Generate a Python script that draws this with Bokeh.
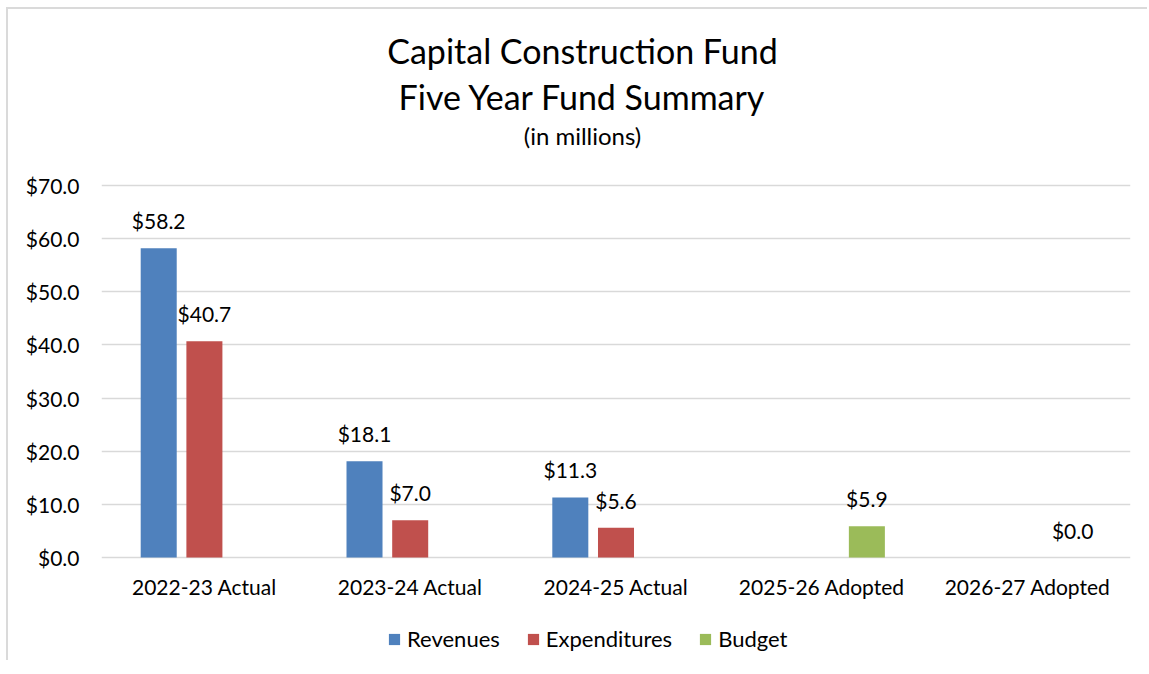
from bokeh.plotting import figure
from bokeh.models import (ColumnDataSource, FactorRange, Range1d, FixedTicker,
                          LabelSet, Label, Legend, LegendItem)
from bokeh.transform import dodge
from bokeh.core.properties import value
from bokeh.embed import file_html
from bokeh.resources import INLINE

categories = ["2022-23 Actual", "2023-24 Actual", "2024-25 Actual",
              "2025-26 Adopted", "2026-27 Adopted"]
revenues = [58.2, 18.1, 11.3, None, None]
expenditures = [40.7, 7.0, 5.6, None, None]
budget = [None, None, None, 5.9, 0.0]
y_ticks = [0, 10, 20, 30, 40, 50, 60, 70]
y_tick_labels = ["$0.0", "$10.0", "$20.0", "$30.0", "$40.0", "$50.0", "$60.0", "$70.0"]
title_lines = ["Capital Construction Fund", "Five Year Fund Summary"]
subtitle = "(in millions)"

FONT = "Lato"
TXT = "#000000"

# canvas offset on the page (margin of the chart box, border drawn as a shadow)
OX, OY = 8, 9
W, H = 1149 - OX, 674 - OY - 12
ZERO_Y = 557 - OY      # canvas y of the value 0
TOP_Y = 185 - OY       # canvas y of the value 70
k = (ZERO_Y - TOP_Y) / 70.0
y_start = -(H - ZERO_Y) / k
y_end = ZERO_Y / k
PAGE_BOTTOM = OY + H

p = figure(x_range=FactorRange(*categories, range_padding=0),
           y_range=Range1d(y_start, y_end),
           width=W, height=H,
           output_backend="svg", toolbar_location=None,
           min_border_left=101 - OX, min_border_right=W - (1130 - OX),
           min_border_top=0, min_border_bottom=0)
p.styles = {"margin-left": "%dpx" % OX, "margin-top": "%dpx" % OY,
            "box-shadow": "-2px -2px 0 0 #dadada"}
p.outline_line_color = None
p.background_fill_color = "white"
p.border_fill_color = "white"

p.xgrid.grid_line_color = None
p.ygrid.grid_line_color = "#d9d9d9"
p.ygrid.grid_line_width = 1.5
p.ygrid.ticker = FixedTicker(ticks=y_ticks)

p.yaxis.ticker = FixedTicker(ticks=y_ticks)
p.yaxis.major_label_overrides = {t: l for t, l in zip(y_ticks, y_tick_labels)}
p.yaxis.axis_line_color = None
p.yaxis.major_tick_line_color = None
p.yaxis.minor_tick_line_color = None
p.yaxis.major_label_standoff = 16
p.yaxis.major_label_text_font = FONT
p.yaxis.major_label_text_font_size = "21px"
p.yaxis.major_label_text_color = TXT

p.xaxis.fixed_location = 0
p.xaxis.axis_line_color = None
p.xaxis.major_tick_line_color = None
p.xaxis.minor_tick_line_color = None
p.xaxis.major_label_standoff = 10
p.xaxis.major_label_text_font = FONT
p.xaxis.major_label_text_font_size = "21px"
p.xaxis.major_label_text_color = TXT

series = [("Revenues", revenues, "#4F81BD", -0.222),
          ("Expenditures", expenditures, "#C0504D", 0.0),
          ("Budget", budget, "#9BBB59", 0.219)]

items = []
for name, vals, color, off in series:
    xs = [c for c, v in zip(categories, vals) if v is not None]
    ys = [v for v in vals if v is not None]
    src = ColumnDataSource(dict(x=xs, y=ys, label=["$%.1f" % v for v in ys]))
    r = p.vbar(x=dodge("x", off, range=p.x_range), top="y", width=0.175,
               source=src, fill_color=color, line_color=None)
    p.add_layout(LabelSet(x=dodge("x", off, range=p.x_range), y="y", text="label",
                          source=src, text_align="center", text_baseline="alphabetic",
                          y_offset=19, text_font=value(FONT), text_font_size="21px",
                          text_color=TXT))
    items.append(LegendItem(label=name, renderers=[r]))

legend = Legend(items=items, orientation="horizontal", location=(286, PAGE_BOTTOM - 652),
                glyph_width=14, glyph_height=14, label_text_font=FONT,
                label_text_font_size="22px", label_text_color=TXT,
                label_standoff=6, spacing=26, padding=0, margin=0,
                border_line_color=None, background_fill_alpha=0)
p.add_layout(legend, "center")

title_x = 481  # from frame left, screen px
for text, baseline, size in [(title_lines[0], 50, "34px"),
                             (title_lines[1], 96, "34px"),
                             (subtitle, 135, "24px")]:
    p.add_layout(Label(x=title_x, y=PAGE_BOTTOM - baseline, x_units="screen", y_units="screen",
                       text=text, text_align="center", text_baseline="alphabetic",
                       text_font=FONT, text_font_size=size, text_color=TXT))

open("out.html", "w").write(file_html(p, INLINE))
